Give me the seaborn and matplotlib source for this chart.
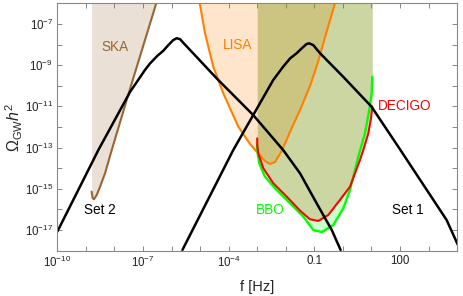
import numpy as np
import pandas as pd
import matplotlib
matplotlib.use("Agg")
import matplotlib.pyplot as plt
import seaborn as sns
from matplotlib.ticker import FixedLocator, FuncFormatter, NullLocator

# ---------------- data (log10 values) ----------------
set1_logf = [-5.62, -3.84, -2.44, -2.09, -1.85, -1.62, -1.44, -1.27, -1.18, -1.04, -0.80,
             0.01, 1.00, 1.94, 3.63, 4.03]
set1_logO = [-17.97, -13.12, -9.72, -9.07, -8.67, -8.42, -8.18, -7.97, -7.94, -8.02, -8.42,
             -9.56, -11.01, -12.96, -16.51, -17.73]

set2_logf = [-10.0, -8.56, -7.45, -6.93, -6.75, -6.50, -6.29, -6.11, -5.94, -5.82, -5.70, -5.59,
             -4.42, -3.14, -2.09, -1.50, -0.90, -0.39, -0.08]
set2_logO = [-17.08, -13.11, -10.29, -9.23, -8.91, -8.55, -8.30, -8.02, -7.78, -7.69, -7.74, -7.91,
             -9.64, -11.42, -13.12, -14.25, -15.75, -17.0, -17.97]

ska_logf = [-8.80, -8.76, -8.715, -8.62, -8.505, -8.33, -8.095, -7.395, -6.544, -6.40]
ska_logO = [-15.14, -15.46, -15.51, -15.30, -14.90, -14.25, -13.12, -9.88, -6.03, -5.40]

lisa_logf = [-5.02, -4.829, -4.538, -4.188, -3.662, -3.253, -3.008, -2.728, -2.553, -2.378,
             -2.143, -1.852, -1.502, -1.152, -0.872, -0.592, -0.277]
lisa_logO = [-5.93, -7.451, -9.073, -10.364, -11.985, -12.825, -13.214, -13.65, -13.796, -13.699,
             -13.165, -12.24, -11.175, -10.01, -8.845, -7.485, -5.995]

decigo_logf = [-3.0, -3.0, -2.962, -2.787, -2.437, -1.968, -1.50, -1.152, -0.861, -0.511, -0.102,
               0.248, 0.599, 0.714, 0.889, 0.984, 1.03]
decigo_logO = [-12.55, -12.87, -13.28, -14.0, -14.73, -15.38, -16.06, -16.48, -16.56, -16.27, -15.54,
               -14.90, -13.60, -13.12, -12.31, -11.58, -11.01]

bbo_logf = [-3.0, -3.0, -2.93, -2.73, -2.318, -1.852, -1.386, -1.036, -0.742, -0.336, 0.014,
            0.248, 0.539, 0.774, 0.924, 1.008, 1.03]
bbo_logO = [-12.87, -13.12, -13.76, -14.41, -15.06, -15.70, -16.35, -17.0, -17.10, -16.76, -15.95,
            -15.06, -13.44, -12.31, -11.17, -10.36, -9.56]

x_tick_labels = {-10: r"$10^{-10}$", -7: r"$10^{-7}$", -4: r"$10^{-4}$", -1: "0.1", 2: "100"}
y_tick_labels = {-7: r"$10^{-7}$", -9: r"$10^{-9}$", -11: r"$10^{-11}$", -13: r"$10^{-13}$",
                 -15: r"$10^{-15}$", -17: r"$10^{-17}$"}

# ---------------- style ----------------
sns.set_theme(style="ticks")
plt.rcParams['font.family'] = ['Liberation Sans', 'DejaVu Sans']
plt.rcParams['mathtext.fontset'] = 'custom'
plt.rcParams['mathtext.rm'] = 'Liberation Sans'
plt.rcParams['mathtext.it'] = 'Liberation Sans:italic'
plt.rcParams['mathtext.bf'] = 'Liberation Sans:bold'

BROWN = (0.6, 0.4, 0.2)
ORANGE = (1.0, 0.5, 0.0)
RED = (1.0, 0.0, 0.0)
GREEN = (0.0, 1.0, 0.0)

fig = plt.figure(figsize=(4.63, 2.96), dpi=100)
ax = fig.add_axes([0.1238, 0.1534, 0.9873 - 0.1238, 0.9885 - 0.1534])
ax.set_xscale('log')
ax.set_yscale('log')


def p(a):
    return np.power(10.0, np.asarray(a, dtype=float))


# fills (order matters for blending)
ax.fill_between(p(ska_logf), p(ska_logO), 1e-5, color=BROWN, alpha=0.2, lw=0)
ax.fill_between(p(lisa_logf), p(lisa_logO), 1e-5, color=ORANGE, alpha=0.2, lw=0)
ax.fill_between(p(decigo_logf), p(decigo_logO), 1e-5, color=RED, alpha=0.2, lw=0)
ax.fill_between(p(bbo_logf), p(bbo_logO), 1e-5, color=GREEN, alpha=0.2, lw=0)

curves = [
    (ska_logf, ska_logO, BROWN, 1.5),
    (lisa_logf, lisa_logO, ORANGE, 1.5),
    (bbo_logf, bbo_logO, GREEN, 1.7),
    (decigo_logf, decigo_logO, RED, 1.5),
    (set1_logf, set1_logO, 'black', 1.8),
    (set2_logf, set2_logO, 'black', 1.8),
]
for lf, lo, c, lw in curves:
    df = pd.DataFrame({"f": p(lf), "O": p(lo)})
    sns.lineplot(data=df, x="f", y="O", sort=False, estimator=None, color=c, lw=lw, ax=ax)

ax.set_xlim(1e-10, 1e4)
ax.set_ylim(1e-18, 1e-6)

# ticks
ax.xaxis.set_major_locator(FixedLocator(p(np.arange(-10, 5))))
ax.yaxis.set_major_locator(FixedLocator(p(np.arange(-18, -5))))
ax.xaxis.set_minor_locator(NullLocator())
ax.yaxis.set_minor_locator(NullLocator())
ax.xaxis.set_major_formatter(FuncFormatter(lambda v, pos: x_tick_labels.get(int(round(np.log10(v))), "")))
ax.yaxis.set_major_formatter(FuncFormatter(lambda v, pos: y_tick_labels.get(int(round(np.log10(v))), "")))
ax.tick_params(which='both', direction='in', length=3.5, width=0.7, color='#888888',
               top=True, right=True, labelsize=8.3, labelcolor='#222222', pad=3)
for s in ax.spines.values():
    s.set_color('#888888')
    s.set_linewidth(0.8)

ax.set_xlabel("f [Hz]", fontsize=10.5, labelpad=7)
ax.set_ylabel(r"$\Omega_{\rm GW}h^2$", fontsize=11.5, labelpad=0)

# labels
FS = 9.8
ax.text(10**-7.98, 10**-8.1, "SKA", color=BROWN, fontsize=FS, ha='center', va='center')
ax.text(10**-3.70, 10**-8.03, "LISA", color=ORANGE, fontsize=FS, ha='center', va='center')
ax.text(10**1.24, 10**-10.98, "DECIGO", color=RED, fontsize=FS, ha='left', va='center')
ax.text(10**-2.53, 10**-16.03, "BBO", color=GREEN, fontsize=FS, ha='center', va='center')
ax.text(10**2.29, 10**-16.03, "Set 1", color='black', fontsize=FS, ha='center', va='center')
ax.text(10**-8.5, 10**-16.03, "Set 2", color='black', fontsize=FS, ha='center', va='center')

fig.savefig("out.png", dpi=100)
